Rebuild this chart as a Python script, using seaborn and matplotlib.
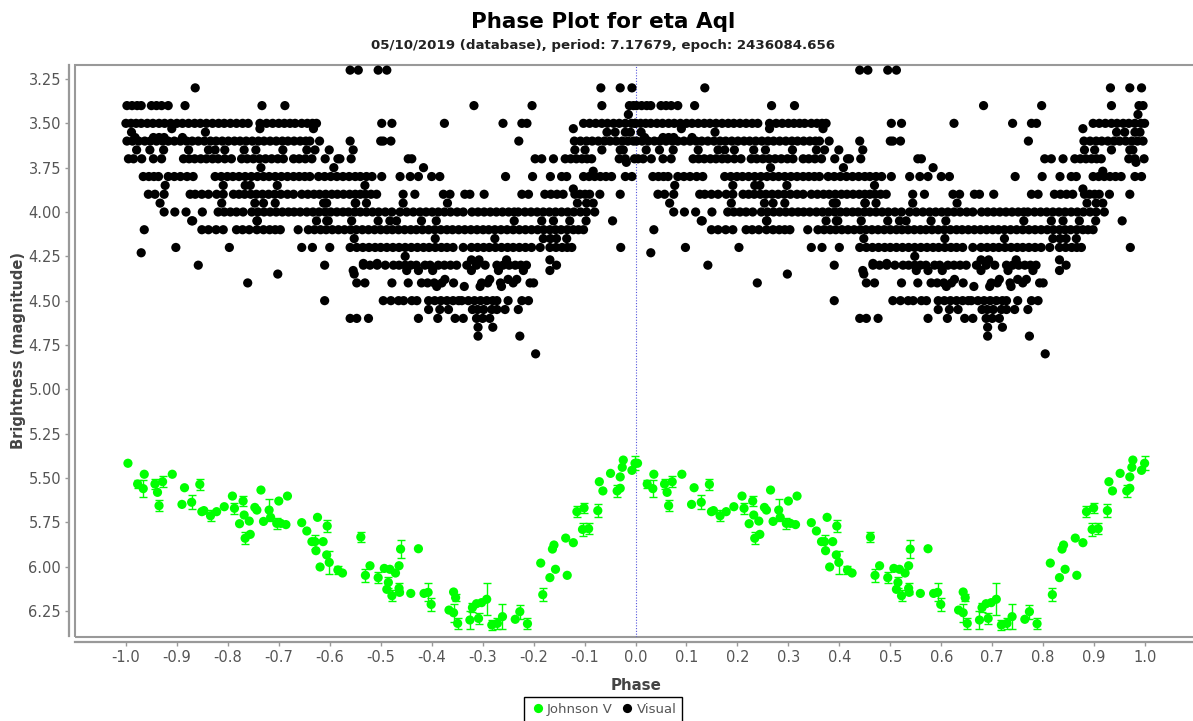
import matplotlib
matplotlib.use("Agg")
import matplotlib.pyplot as plt
from matplotlib.patches import Rectangle
import numpy as np
import pandas as pd
import seaborn as sns

# visual estimates, one list per magnitude level (phase values, first cycle only)
vis_320 = [-.560, -.544, -.505, -.488]
vis_330 = [-.864, -.068, -.030, -.007]
vis_340 = [-.998, -.988, -.978, -.970, -.950, -.940, -.930, -.917, -.884, -.733, -.688, -.317, -.203, -.066, -.012, -.004]
vis_345 = [-.014]
vis_350 = [-1.0, -.99, -.98, -.97, -.958, -.947, -.935, -.924, -.912, -.9, -.889, -.877, -.865, -.854, -.842, -.83,
           -.818, -.807, -.795, -.783, -.771, -.76, -.737, -.724, -.712, -.7, -.689, -.678, -.668, -.655, -.644, -.634,
           -.626, -.498, -.478, -.375, -.26, -.223, -.213, -.102, -.09, -.078, -.066, -.055, -.043, -.032, -.02, -.008, -.001]
vis_353 = [-.91, -.737, -.632, -.122]
vis_355 = [-.989, -.844, -.056, -.04, -.02, -.01]
vis_358 = [-.982, -.946, -.935, -.925, -.889]
vis_360 = [-.998, -.987, -.975, -.963, -.952, -.94, -.928, -.917, -.905, -.893, -.881, -.87, -.858, -.846, -.834, -.823,
           -.811, -.799, -.787, -.776, -.764, -.752, -.74, -.729, -.717, -.705, -.693, -.682, -.67, -.658, -.647, -.639,
           -.62, -.56, -.5, -.495, -.48, -.229, -.12, -.108, -.096, -.085, -.073, -.061, -.05, -.038, -.026, -.015, -.004]
vis_365 = [-.979, -.953, -.926, -.877, -.838, -.825, -.806, -.768, -.745, -.692, -.645, -.629, -.601, -.554, -.119,
           -.099, -.066, -.03, -.024]
vis_370 = [-.995, -.985, -.969, -.946, -.93, -.887, -.876, -.865, -.853, -.842, -.83, -.819, -.806, -.793, -.773, -.762,
           -.75, -.738, -.726, -.714, -.702, -.691, -.671, -.66, -.648, -.635, -.609, -.584, -.58, -.558, -.446, -.439,
           -.197, -.184, -.161, -.138, -.127, -.116, -.105, -.095, -.086, -.032, -.02, -.002]
vis_372 = [-.018]
vis_375 = [-.735, -.592, -.416]
vis_377 = [-.083]
vis_380 = [-.966, -.955, -.945, -.936, -.917, -.905, -.893, -.88, -.868, -.825, -.813, -.801, -.79, -.778, -.766, -.754,
           -.742, -.73, -.719, -.707, -.695, -.683, -.671, -.66, -.649, -.639, -.622, -.61, -.598, -.586, -.574, -.562,
           -.55, -.54, -.528, -.517, -.498, -.462, -.442, -.426, -.4, -.384, -.255, -.202, -.167, -.145, -.135, -.102,
           -.091, -.08, -.069, -.058, -.047, -.02, -.007]
vis_385 = [-.923, -.809, -.766, -.756, -.703, -.531]
vis_387 = [-.122]
vis_390 = [-.956, -.943, -.925, -.874, -.864, -.851, -.838, -.822, -.809, -.789, -.778, -.767, -.755, -.744, -.732, -.72,
           -.708, -.696, -.683, -.671, -.655, -.643, -.631, -.62, -.608, -.596, -.585, -.573, -.561, -.55, -.54, -.53,
           -.519, -.508, -.456, -.433, -.377, -.364, -.335, -.325, -.297, -.223, -.21, -.178, -.166, -.154, -.142, -.119,
           -.109, -.099, -.09, -.07, -.03]
vis_395 = [-.933, -.812, -.747, -.73, -.707, -.612, -.606, -.55, -.549, -.528, -.456, -.369, -.114, -.096, -.083]
vis_400 = [-.925, -.904, -.882, -.85, -.819, -.807, -.795, -.783, -.77, -.753, -.741, -.729, -.717, -.705, -.693, -.681,
           -.67, -.658, -.645, -.633, -.621, -.609, -.598, -.586, -.574, -.563, -.551, -.54, -.528, -.516, -.504, -.491,
           -.478, -.462, -.449, -.436, -.423, -.411, -.399, -.387, -.375, -.363, -.35, -.338, -.321, -.309, -.297, -.285,
           -.273, -.261, -.249, -.238, -.23, -.217, -.205, -.193, -.181, -.169, -.157, -.145, -.133, -.121, -.108, -.096, -.08]
vis_405 = [-.871, -.869, -.743, -.742, -.626, -.606, -.603, -.557, -.505, -.482, -.469, -.42, -.391, -.238, -.184, -.161,
           -.129, -.097, -.045]
vis_410 = [-.964, -.851, -.838, -.823, -.809, -.783, -.771, -.758, -.743, -.73, -.718, -.707, -.697, -.662, -.642, -.63,
           -.618, -.607, -.595, -.583, -.571, -.559, -.548, -.536, -.524, -.512, -.5, -.488, -.477, -.465, -.453, -.441,
           -.43, -.418, -.406, -.394, -.382, -.37, -.359, -.347, -.335, -.323, -.311, -.299, -.288, -.276, -.264, -.252,
           -.24, -.228, -.216, -.204, -.192, -.18, -.168, -.157, -.146, -.134, -.122, -.112, -.102]
vis_415 = [-.552, -.393, -.276, -.181, -.167, -.155, -.135]
vis_420 = [-.902, -.797, -.655, -.634, -.6, -.56, -.547, -.535, -.523, -.511, -.5, -.488, -.476, -.464, -.452, -.44,
           -.428, -.416, -.405, -.393, -.381, -.37, -.358, -.338, -.322, -.31, -.298, -.287, -.275, -.263, -.251, -.24,
           -.228, -.216, -.204, -.187, -.168, -.156, -.144, -.134, -.125, -.029]
vis_423 = [-.970]
vis_425 = [-.452]
vis_427 = [-.322, -.307, -.253, -.168]
vis_429 = [-.534, -.507]
vis_430 = [-.858, -.61, -.534, -.521, -.507, -.491, -.475, -.464, -.452, -.441, -.43, -.413, -.403, -.387, -.375, -.363,
           -.351, -.331, -.312, -.295, -.272, -.26, -.248, -.236, -.225, -.214, -.155]
vis_433 = [-.554, -.449, -.426, -.398, -.322, -.269, -.22, -.168]
vis_435 = [-.702, -.552]
vis_438 = [-.374, -.233, -.286, -.25]
vis_440 = [-.761, -.547, -.531, -.478, -.446, -.42, -.408, -.395, -.38, -.357, -.302, -.29, -.265, -.24, -.207, -.2]
vis_442 = [-.39, -.336, -.305, -.263]
vis_450 = [-.61, -.495, -.48, -.465, -.455, -.439, -.429, -.406, -.394, -.382, -.37, -.358, -.347, -.341, -.328, -.316,
           -.304, -.292, -.28, -.272, -.25, -.223, -.21]
vis_455 = [-.406, -.384, -.367, -.32, -.31, -.298, -.282, -.272, -.256, -.23]
vis_460 = [-.56, -.547, -.524, -.426, -.388, -.354, -.338, -.312, -.3, -.286]
vis_465 = [-.309, -.28]
vis_470 = [-.309, -.227]
vis_480 = [-.196]

visual_rows = {3.20: vis_320, 3.30: vis_330, 3.40: vis_340, 3.45: vis_345, 3.50: vis_350, 3.53: vis_353, 3.55: vis_355,
               3.58: vis_358, 3.60: vis_360, 3.65: vis_365, 3.70: vis_370, 3.72: vis_372, 3.75: vis_375, 3.77: vis_377,
               3.80: vis_380, 3.85: vis_385, 3.87: vis_387, 3.90: vis_390, 3.95: vis_395, 4.00: vis_400, 4.05: vis_405,
               4.10: vis_410, 4.15: vis_415, 4.20: vis_420, 4.23: vis_423, 4.25: vis_425, 4.27: vis_427, 4.29: vis_429,
               4.30: vis_430, 4.33: vis_433, 4.35: vis_435, 4.38: vis_438, 4.40: vis_440, 4.42: vis_442, 4.50: vis_450,
               4.55: vis_455, 4.60: vis_460, 4.65: vis_465, 4.70: vis_470, 4.80: vis_480}

# Johnson V points, with error bars
jv_phase = [-.996, -.977, -.964, -.966, -.943, -.928, -.938, -.935, -.909, -.885, -.855, -.890, -.871, -.851, -.847, -.834,
            -.822, -.807, -.791, -.787, -.770, -.768, -.777, -.758, -.747, -.743, -.735, -.730, -.719, -.716, -.700, -.683,
            -.704, -.696, -.686, -.756, -.766, -.655, -.645, -.635, -.629, -.627, -.624, -.613, -.605, -.606, -.601, -.619,
            -.584, -.575, -.539, -.530, -.521, -.505, -.493, -.482, -.471, -.464, -.485, -.488, -.478, -.464, -.463, -.461,
            -.426, -.441, -.415, -.407, -.401, -.366, -.357, -.353, -.357, -.349, -.325, -.320, -.312, -.302, -.308, -.292,
            -.282, -.271, -.261, -.236, -.227, -.212, -.182, -.186, -.168, -.157, -.163, -.160, -.137, -.122, -.134, -.104,
            -.092, -.115, -.101, -.074, -.071, -.064, -.049, -.036, -.030, -.030, -.026, -.024, -.007, -.001]
jv_mag = [5.417, 5.534, 5.479, 5.560, 5.534, 5.521, 5.581, 5.656, 5.479, 5.555, 5.536, 5.649, 5.637, 5.690, 5.684, 5.713,
          5.690, 5.662, 5.602, 5.671, 5.630, 5.709, 5.758, 5.743, 5.666, 5.681, 5.568, 5.745, 5.681, 5.722, 5.630, 5.602,
          5.756, 5.756, 5.763, 5.818, 5.840, 5.752, 5.799, 5.859, 5.859, 5.910, 5.722, 5.859, 5.771, 5.934, 5.976, 6.002,
          6.019, 6.036, 5.833, 6.049, 5.995, 6.062, 6.010, 6.015, 6.036, 5.995, 6.089, 6.128, 6.164, 6.122, 6.145, 5.901,
          5.899, 6.151, 6.151, 6.145, 6.213, 6.245, 6.143, 6.175, 6.260, 6.320, 6.301, 6.231, 6.209, 6.203, 6.292, 6.184,
          6.329, 6.320, 6.282, 6.297, 6.254, 6.322, 6.158, 5.980, 6.062, 6.015, 5.901, 5.878, 5.839, 5.865, 6.049, 5.790,
          5.786, 5.690, 5.669, 5.684, 5.521, 5.573, 5.474, 5.573, 5.558, 5.494, 5.440, 5.399, 5.457, 5.417]
jv_err = [0, 0.02, 0, .05, .03, .03, 0, .03, 0, 0, .03, 0, .04, 0, 0, .03,
          0, 0, 0, .03, .03, 0, 0, 0, 0, 0, 0, 0, .06, 0, 0, 0,
          .03, 0, 0, 0, .035, 0, 0, 0, .04, 0, 0, 0, .035, 0, .065, 0,
          .02, 0, .03, .035, 0, .03, 0, 0, 0, 0, .03, 0, .03, .03, 0, .05,
          0, 0, 0, .05, .035, 0, 0, .02, .05, .033, .05, .025, 0, 0, .03, .09,
          .03, .033, .07, 0, .04, .03, .035, 0, 0, 0, 0, 0, 0, 0, 0, .035,
          .03, .03, .03, .035, 0, 0, 0, .035, 0, 0, 0, 0, 0, .04]

x_ticks = [round(v / 10, 1) for v in range(-10, 11)]
y_ticks = [3.25, 3.50, 3.75, 4.00, 4.25, 4.50, 4.75, 5.00, 5.25, 5.50, 5.75, 6.00, 6.25]

GREEN = "#00ff00"
GREY = "#999999"
TEXT = "#555555"

vis_x = []
vis_y = []
for mag, phases in visual_rows.items():
    vis_x += phases
    vis_y += [mag] * len(phases)

vis_df = pd.DataFrame({"phase": vis_x, "mag": vis_y, "band": "Visual"})
jv_df = pd.DataFrame({"phase": jv_phase, "mag": jv_mag, "err": jv_err, "band": "Johnson V"})

# the phase plot shows the same data twice, one cycle apart
vis_df = pd.concat([vis_df, vis_df.assign(phase=vis_df.phase + 1)])
jv_df = pd.concat([jv_df, jv_df.assign(phase=jv_df.phase + 1)])
df = pd.concat([jv_df, vis_df], ignore_index=True)

sns.set_theme(style="white")
plt.rcParams["font.family"] = ["DejaVu Sans"]

fig = plt.figure(figsize=(11.93, 7.21), dpi=100)
ax = fig.add_axes([75 / 1193, 1 - 636.5 / 721, (1193 - 75) / 1193, (636.5 - 65) / 721])

ax.axvline(0, color="#5555dd", lw=0.8, ls=(0, (1, 1.5)), zorder=1)

bars = jv_df[jv_df.err > 0]
ax.errorbar(bars.phase, bars.mag, yerr=bars.err, fmt="none", ecolor=GREEN, elinewidth=1, capsize=3, capthick=1, zorder=2)

sns.scatterplot(data=df, x="phase", y="mag", hue="band", palette={"Johnson V": GREEN, "Visual": "black"},
                s=44, linewidth=0, ax=ax, zorder=3, clip_on=True)

ax.set_xlim(-1.0999, 1.094)
ax.set_ylim(6.394, 3.171)
ax.set_xticks(x_ticks)
ax.set_xticklabels([f"{v:.1f}" for v in x_ticks])
ax.set_yticks(y_ticks)
ax.set_yticklabels([f"{v:.2f}" for v in y_ticks])
ax.tick_params(axis="both", direction="out", length=3, width=1, color=GREY, labelcolor=TEXT, labelsize=10.5,
               bottom=True, left=True, pad=3)

for side in ["top", "right"]:
    ax.spines[side].set_visible(False)
for side in ["left", "bottom"]:
    ax.spines[side].set_position(("outward", 4))
    ax.spines[side].set_color(GREY)
    ax.spines[side].set_linewidth(1.6)

# plot frame sits just inside the offset axis lines
ax.add_patch(Rectangle((0, 0), 1.01, 1, transform=ax.transAxes, fill=False, ec=GREY, lw=1.5, clip_on=False, zorder=0))

ax.set_xlabel("Phase", fontsize=10.8, fontweight="bold", color="#444444", labelpad=4)
ax.set_ylabel("Brightness (magnitude)", fontsize=10.5, fontweight="bold", color="#444444", labelpad=2)
ax.xaxis.set_label_coords((636 - 75) / 1118, -(678 - 636.5) / 571.5)

fig.text(603.5 / 1193, 1 - 22 / 721, "Phase Plot for eta Aql", ha="center", va="center", fontsize=15.5,
         fontweight="bold", color="black")
fig.text(603 / 1193, 1 - 46 / 721, "05/10/2019 (database), period: 7.17679, epoch: 2436084.656", ha="center",
         va="center", fontsize=9.6, fontweight="bold", color="#222222")

handles, labels = ax.get_legend_handles_labels()
ax.legend(handles, labels, ncol=2, loc="upper center", bbox_to_anchor=(603 / 1193, 1 - 697 / 721),
          bbox_transform=fig.transFigure, frameon=True, fancybox=False, edgecolor="black", framealpha=1,
          fontsize=9.5, labelcolor=TEXT, columnspacing=0.5, handletextpad=0.1, borderpad=0.45, handlelength=1.2,
          borderaxespad=0)

fig.savefig("out.png", dpi=100)
